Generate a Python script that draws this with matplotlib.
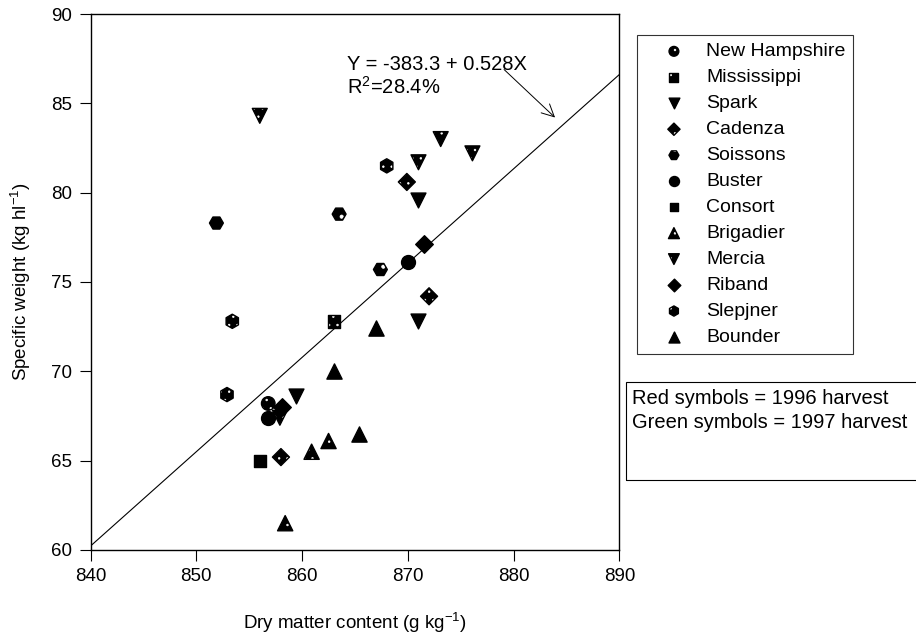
import matplotlib
matplotlib.use("Agg")
import matplotlib.pyplot as plt
from matplotlib.patches import Rectangle
import numpy as np

plt.rcParams['font.family'] = ['Liberation Sans', 'DejaVu Sans']
plt.rcParams['mathtext.fontset'] = 'custom'
plt.rcParams['mathtext.rm'] = 'Liberation Sans'
plt.rcParams['hatch.color'] = 'white'
plt.rcParams['hatch.linewidth'] = 0.5

# dry matter (g/kg) and specific weight (kg/hl) per variety
varieties = ["New Hampshire", "Mississippi", "Spark", "Cadenza", "Soissons", "Buster",
             "Consort", "Brigadier", "Mercia", "Riband", "Slepjner", "Bounder"]

nh_x, nh_y = [856.8], [68.2]
miss_x, miss_y = [863.0], [72.8]
spark_x, spark_y = [871.0, 859.4, 871.0], [79.6, 68.6, 72.8]
cad_x, cad_y = [869.9, 872.0, 858.0], [80.6, 74.2, 65.2]
soi_x, soi_y = [863.5, 851.9, 867.4], [78.8, 78.3, 75.7]
bus_x, bus_y = [870.0, 856.8], [76.1, 67.4]
con_x, con_y = [856.0], [65.0]
brig_x, brig_y = [858.4, 860.9, 862.5], [61.5, 65.5, 66.1]
mer_x, mer_y = [856.0, 873.1, 876.1, 871.0, 857.9], [84.3, 83.0, 82.2, 81.7, 67.4]
rib_x, rib_y = [871.5, 858.1], [77.1, 68.0]
slep_x, slep_y = [853.4, 852.9, 868.0], [72.8, 68.7, 81.5]
bound_x, bound_y = [867.0, 863.0, 865.4], [72.4, 70.0, 66.5]

xs = [nh_x, miss_x, spark_x, cad_x, soi_x, bus_x, con_x, brig_x, mer_x, rib_x, slep_x, bound_x]
ys = [nh_y, miss_y, spark_y, cad_y, soi_y, bus_y, con_y, brig_y, mer_y, rib_y, slep_y, bound_y]
markers = ['o', 's', 'v', 'D', 'H', 'o', 's', '^', 'v', 'D', 'h', '^']
sizes = [95, 80, 115, 75, 100, 100, 80, 120, 115, 80, 105, 120]
hatches = ['..', '..', None, '..', '.', None, None, '..', '..', None, '..', None]

# regression
intercept, slope = -383.3, 0.528
line_x = np.array([840, 890])

fig = plt.figure(figsize=(9.16, 6.37), dpi=100)
ax = fig.add_axes([0.0988, 0.1366, 0.5775, 0.8414])

ax.plot(line_x, intercept + slope * line_x, color='black', lw=0.8, zorder=1)

for name, x, y, m, s, h in zip(varieties, xs, ys, markers, sizes, hatches):
    ax.scatter(x, y, marker=m, s=s, c='black', hatch=h, label=name, zorder=3)

ax.text(864.2, 87.15, "Y = -383.3 + 0.528X", fontsize=14.5, va='center', ha='left')
ax.text(864.2, 85.95, "R$^2$=28.4%", fontsize=14.5, va='center', ha='left')
ax.annotate("", xy=(884.1, 84.1), xytext=(878.9, 87.0),
            arrowprops=dict(arrowstyle='->', lw=0.7, color='black', mutation_scale=22))

ax.set_xlim(840, 890)
ax.set_ylim(60, 90)
ax.set_xticks(np.arange(840, 891, 10))
ax.set_yticks(np.arange(60, 91, 5))
ax.tick_params(direction='out', length=8, width=0.8, labelsize=13.5, pad=5)
for sp in ax.spines.values():
    sp.set_linewidth(1.0)

ax.set_xlabel("Dry matter content (g kg$^{-1}$)", fontsize=13.5)
ax.set_ylabel("Specific weight (kg hl$^{-1}$)", fontsize=13.5)
ax.xaxis.set_label_coords(0.5, -0.112)
ax.yaxis.set_label_coords(-0.108, 0.5)

leg = fig.legend(loc='upper left', bbox_to_anchor=(0.6954, 0.945), borderaxespad=0,
                 fontsize=14, frameon=True, fancybox=False, edgecolor='black',
                 borderpad=0.4, handlelength=3.0, handletextpad=0.16, labelspacing=0.43,
                 scatterpoints=1, markerscale=0.72)
leg.get_frame().set_linewidth(0.8)

# harvest year note box, runs off the right edge
fig.patches.append(Rectangle((0.6834, 0.2465), 0.4, 0.1538, transform=fig.transFigure,
                             fill=False, edgecolor='black', lw=0.8, clip_on=False))
fig.text(0.690, 0.375, "Red symbols = 1996 harvest", fontsize=14.5, va='center')
fig.text(0.690, 0.336, "Green symbols = 1997 harvest", fontsize=14.5, va='center')

fig.savefig("out.png", dpi=100)
